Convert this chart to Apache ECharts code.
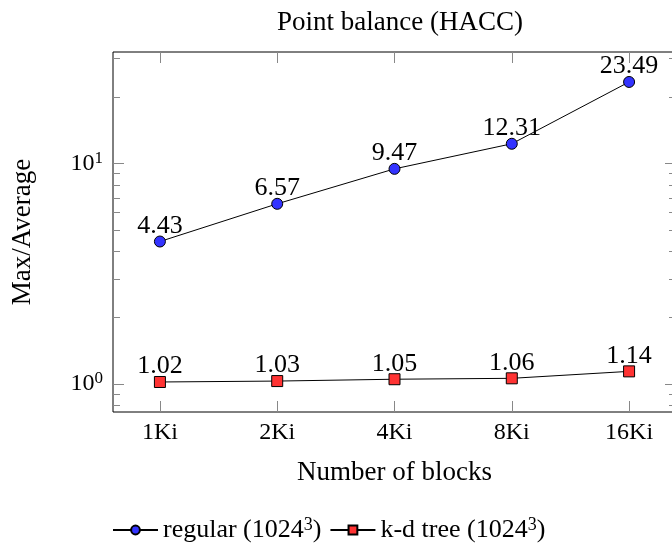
<!DOCTYPE html>
<html>
<head>
<meta charset="utf-8">
<script src="https://cdn.jsdelivr.net/npm/echarts@6/dist/echarts.min.js"></script>
<style>
html,body{margin:0;padding:0;background:#fff;}
#c{width:672px;height:543px;}
</style>
</head>
<body>
<div id="c"></div>
<script>
const categories = ['1Ki', '2Ki', '4Ki', '8Ki', '16Ki'];
const regular = [4.43, 6.57, 9.47, 12.31, 23.49];
const kdtree = [1.02, 1.03, 1.05, 1.06, 1.14];
const yMajorTicks = [1, 10];
const yMinorTicks = [0.8, 0.9, 2, 3, 4, 5, 6, 7, 8, 9, 20, 30];
const seriesNames = ['regular (1024³)', 'k-d tree (1024³)'];

const FONT = 'Liberation Serif';
const chart = echarts.init(document.getElementById('c'), null, {renderer: 'canvas'});

const xIdx = categories.map((_, i) => i);
const toPairs = arr => arr.map((v, i) => [i, v]);

const yMin = 0.7454, yMax = 32.13;
const xMin = -0.4, xMax = 4.4;

function yAx(position, custom, len, showLabel) {
  return {
    type: 'log', logBase: 10, min: yMin, max: yMax, position: position,
    axisLine: {show: false, onZero: false},
    splitLine: {show: false},
    axisTick: {show: true, inside: true, length: len, customValues: custom,
      lineStyle: {color: '#888', width: 1}},
    axisLabel: {show: showLabel, customValues: custom, margin: 10,
      fontFamily: FONT, fontSize: 24, color: '#000',
      formatter: v => '10{sup|' + Math.round(Math.log10(v)) + '}',
      rich: {sup: {fontSize: 17, fontFamily: FONT, color: '#000', padding: [0, 0, 10, 0]}}},
    name: showLabel ? 'Max/Average' : '',
    nameLocation: 'middle', nameRotate: 90, nameGap: 77,
    nameTextStyle: {fontFamily: FONT, fontSize: 27, color: '#000'}
  };
}
function xAx(position, showLabel) {
  return {
    type: 'value', min: xMin, max: xMax, position: position,
    axisLine: {show: false, onZero: false},
    splitLine: {show: false},
    axisTick: {show: true, inside: true, length: 11, customValues: xIdx,
      lineStyle: {color: '#888', width: 1}},
    axisLabel: {show: showLabel, customValues: xIdx, margin: 9,
      fontFamily: FONT, fontSize: 24, color: '#000',
      formatter: v => categories[Math.round(v)] || ''},
    name: showLabel ? 'Number of blocks' : '',
    nameLocation: 'middle', nameGap: 47,
    nameTextStyle: {fontFamily: FONT, fontSize: 27, color: '#000'}
  };
}

const labelCfg = {
  show: true, position: 'top', distance: -3.5,
  fontFamily: FONT, fontSize: 26, color: '#000',
  formatter: p => p.value[1].toFixed(2)
};

chart.setOption({
  animation: false,
  backgroundColor: '#fff',
  title: {
    text: 'Point balance (HACC)', left: 395, top: 4, textAlign: 'center',
    textStyle: {fontFamily: FONT, fontSize: 27, fontWeight: 'normal', color: '#000'}
  },
  grid: {left: 113, top: 52, right: -4, bottom: 131, show: true,
    outerBoundsMode: 'none', containLabel: false,
    borderColor: '#000', borderWidth: 1, backgroundColor: 'transparent'},
  legend: {
    left: 107, top: 511, itemWidth: 45, itemHeight: 11, itemGap: 8,
    textStyle: {fontFamily: FONT, fontSize: 26, color: '#000',
      rich: {sup: {fontSize: 18, fontFamily: FONT, color: '#000', padding: [0, 0, 10, 0]}}},
    formatter: name => name.replace('³', '{sup|3}'),
    data: seriesNames
  },
  xAxis: [xAx('bottom', true), xAx('top', false)],
  yAxis: [yAx('left', yMajorTicks, 11, true), yAx('left', yMinorTicks, 7, false),
          yAx('right', yMajorTicks, 11, false), yAx('right', yMinorTicks, 7, false)],
  series: [
    {
      name: seriesNames[0], type: 'line', xAxisIndex: 0, yAxisIndex: 0,
      data: toPairs(regular),
      symbol: 'circle', symbolSize: 11,
      lineStyle: {color: '#000', width: 1},
      itemStyle: {color: '#3333ff', borderColor: '#000', borderWidth: 1},
      label: labelCfg
    },
    {
      name: seriesNames[1], type: 'line', xAxisIndex: 0, yAxisIndex: 0,
      data: toPairs(kdtree),
      symbol: 'rect', symbolSize: 11,
      lineStyle: {color: '#000', width: 1},
      itemStyle: {color: '#ff3333', borderColor: '#000', borderWidth: 1},
      label: labelCfg
    }
  ]
});
</script>
</body>
</html>
